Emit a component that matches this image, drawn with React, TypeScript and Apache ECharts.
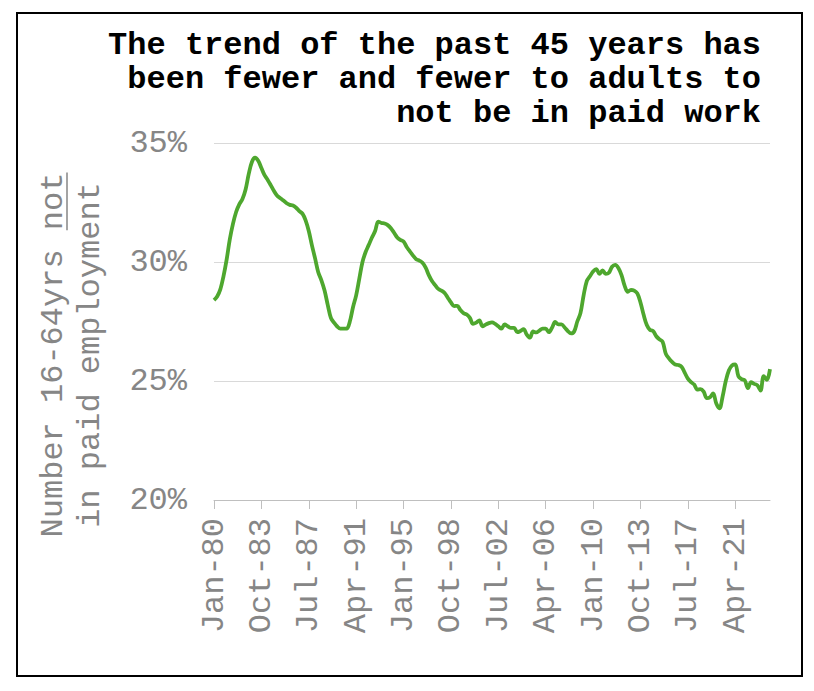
import React, { useEffect, useRef } from 'react';
import * as echarts from 'echarts';

// Quarterly share (%) of 16-64 year olds not in paid employment, Jan-80 .. Jan-24
const quarterMonths = ['Jan', 'Apr', 'Jul', 'Oct'];
const startYear = 1980;
const values = [
  28.4, 28.55, 28.85, 29.4, 30.1, 30.95, 31.6, 32.1, 32.42, 32.65,
  33.05, 33.7, 34.2, 34.38, 34.25, 33.95, 33.65, 33.45, 33.22, 32.98,
  32.78, 32.68, 32.58, 32.47, 32.4, 32.37, 32.28, 32.14, 32.03, 31.75,
  31.3, 30.7, 30.15, 29.57, 29.23, 28.8, 28.2, 27.65, 27.45, 27.29,
  27.2, 27.2, 27.2, 27.5, 28.1, 28.6, 29.3, 30.0, 30.42, 30.72,
  31.03, 31.3, 31.7, 31.64, 31.62, 31.55, 31.42, 31.23, 31.03, 30.93,
  30.86, 30.63, 30.45, 30.27, 30.12, 30.06, 29.97, 29.76, 29.45, 29.2,
  29.03, 28.87, 28.8, 28.7, 28.5, 28.3, 28.15, 28.16, 27.98, 27.85,
  27.79, 27.65, 27.4, 27.45, 27.55, 27.3, 27.37, 27.43, 27.46, 27.4,
  27.3, 27.2, 27.38, 27.3, 27.23, 27.23, 27.05, 27.1, 27.18, 26.95,
  26.82, 27.08, 27.04, 27.12, 27.2, 27.2, 27.05, 27.24, 27.48, 27.38,
  27.38, 27.25, 27.1, 27.0, 27.08, 27.5, 27.85, 28.6, 29.2, 29.4,
  29.6, 29.7, 29.5, 29.65, 29.5, 29.55, 29.8, 29.88, 29.75, 29.45,
  29.0, 28.75, 28.83, 28.8, 28.68, 28.3, 27.78, 27.35, 27.15, 27.1,
  26.88, 26.75, 26.65, 26.15, 25.95, 25.8, 25.69, 25.67, 25.6, 25.35,
  25.1, 24.95, 24.85, 24.64, 24.66, 24.55, 24.28, 24.32, 24.48, 24.05,
  23.85, 24.35, 25.0, 25.45, 25.66, 25.7, 25.2, 25.08, 25.03, 24.7,
  24.95, 24.88, 24.82, 24.6, 25.2, 25.05, 25.5,
];
const categories = values.map(
  (_, i) => `${quarterMonths[i % 4]}-${String((startYear + Math.floor(i / 4)) % 100).padStart(2, '0')}`
);
const labelEvery = 15; // Jan-80, Oct-83, Jul-87, ... Apr-21
const yMin = 20;
const yMax = 35;
const yStep = 5;
const titleLines = [
  'The trend of the past 45 years has',
  'been fewer and fewer to adults to',
  'not be in paid work',
];
const axisNameLine1 = 'Number 16-64yrs ';
const axisNameUnderlined = 'not';
const axisNameLine2 = 'in paid employment';

const FONT = '"Liberation Mono", "Courier New", monospace';
const GREY = '#868686';

export default function App() {
  const ref = useRef<HTMLDivElement>(null);
  useEffect(() => {
    if (!ref.current) return;
    const chart = echarts.init(ref.current, undefined, { renderer: 'svg' });
    const fs = 32;
    const cw = fs * 0.6;
    const line1 = axisNameLine1 + axisNameUnderlined;
    const half = (line1.length / 2) * cw;
    chart.setOption({
      animation: false,
      grid: { left: 206, top: 135, width: 556, height: 357 },
      xAxis: {
        type: 'category',
        data: categories,
        boundaryGap: false,
        axisLine: { lineStyle: { color: '#bfbfbf', width: 1 } },
        axisTick: { interval: labelEvery - 1, length: 9, lineStyle: { color: '#bfbfbf' } },
        axisLabel: {
          interval: labelEvery - 1,
          rotate: 90,
          margin: 18,
          color: GREY,
          fontFamily: FONT,
          fontSize: fs,
          hideOverlap: false,
        },
        splitLine: { show: false },
      },
      yAxis: {
        type: 'value',
        min: yMin,
        max: yMax,
        interval: yStep,
        axisLine: { show: false },
        axisTick: { show: false },
        axisLabel: {
          formatter: '{value}%',
          color: GREY,
          fontFamily: FONT,
          fontSize: fs,
          margin: 27,
        },
        splitLine: { lineStyle: { color: '#d9d9d9', width: 1 } },
      },
      series: [
        {
          type: 'line',
          data: values,
          showSymbol: false,
          smooth: 0.35,
          lineStyle: { color: '#4ea72e', width: 3.8 },
          itemStyle: { color: '#4ea72e' },
        },
      ],
      graphic: [
        {
          type: 'rect',
          shape: { x: 9, y: 5, width: 785, height: 663 },
          style: { fill: 'none', stroke: '#000', lineWidth: 2 },
          silent: true,
        },
        ...titleLines.map((t, i) => ({
          type: 'text',
          x: 753,
          y: 37 + i * 34,
          style: {
            text: t,
            fontFamily: FONT,
            fontSize: fs,
            fontWeight: 'bold',
            fill: '#000',
            align: 'right',
            verticalAlign: 'middle',
          },
        })),
        {
          type: 'group',
          x: 64,
          y: 347,
          rotation: Math.PI / 2,
          children: [
            {
              type: 'text',
              x: 0,
              y: -19,
              style: {
                text: line1,
                fontFamily: FONT,
                fontSize: fs,
                fill: GREY,
                align: 'center',
                verticalAlign: 'middle',
              },
            },
            {
              type: 'text',
              x: 0,
              y: 18,
              style: {
                text: axisNameLine2,
                fontFamily: FONT,
                fontSize: fs,
                fill: GREY,
                align: 'center',
                verticalAlign: 'middle',
              },
            },
            {
              type: 'line',
              shape: {
                x1: half - axisNameUnderlined.length * cw,
                y1: -19 + 14,
                x2: half,
                y2: -19 + 14,
              },
              style: { stroke: GREY, lineWidth: 1.5 },
            },
          ],
        },
      ],
    });
    return () => chart.dispose();
  }, []);
  return <div ref={ref} style={{ width: 798, height: 675 }} />;
}
